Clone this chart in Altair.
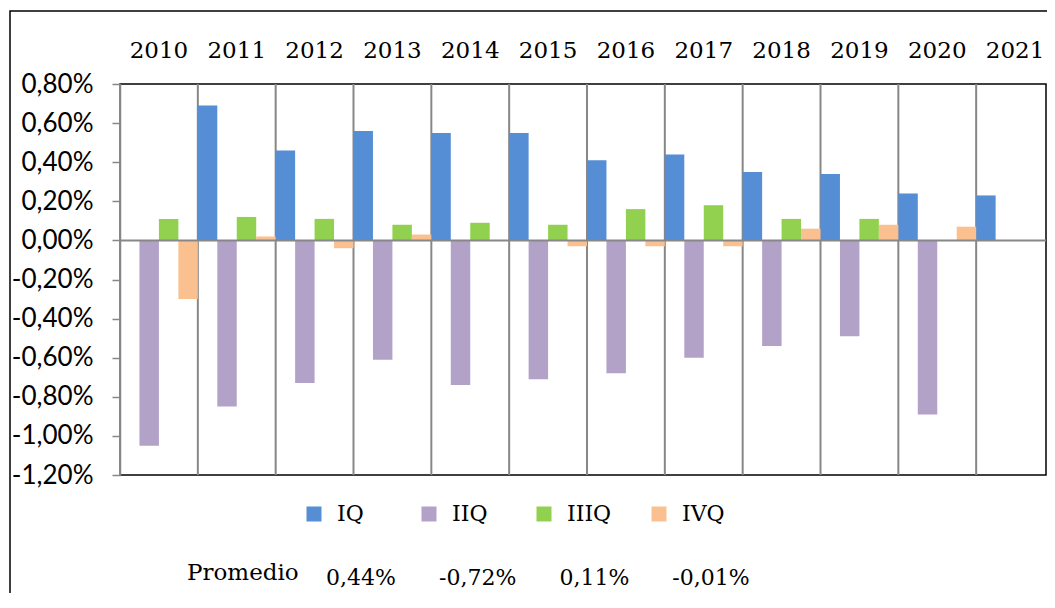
import altair as alt
import pandas as pd

years = [str(y) for y in range(2010, 2022)]
series = ["IQ", "IIQ", "IIIQ", "IVQ"]
iq   = [None, 0.69, 0.46, 0.56, 0.55, 0.55, 0.41, 0.44, 0.35, 0.34, 0.24, 0.23]
iiq  = [-1.05, -0.85, -0.73, -0.61, -0.74, -0.71, -0.68, -0.60, -0.54, -0.49, -0.89, None]
iiiq = [0.11, 0.12, 0.11, 0.08, 0.09, 0.08, 0.16, 0.18, 0.11, 0.11, None, None]
ivq  = [-0.30, 0.02, -0.04, 0.03, None, -0.03, -0.03, -0.03, 0.06, 0.08, 0.07, None]
promedio = [0.44, -0.72, 0.11, -0.01]
promedio_label = "Promedio"
y_ticks = [0.80, 0.60, 0.40, 0.20, 0.00, -0.20, -0.40, -0.60, -0.80, -1.00, -1.20]
colors = ["#558ED5", "#B3A2C7", "#92D050", "#FAC090"]

rows = []
for s, vals in zip(series, [iq, iiq, iiiq, ivq]):
    for y, v in zip(years, vals):
        if v is not None:
            rows.append({"year": y, "serie": s, "value": v})
df = pd.DataFrame(rows)
df_years = pd.DataFrame({"year": years})
df_prom = pd.DataFrame({"serie": series, "value": promedio})
one = pd.DataFrame({"k": [0]})

SERIF = "DejaVu Serif"
SANS = "Lato"
GRAY = "#878787"

fmt = "replace(replace(format(datum.value, '.2f'), '.', ','), '\u2212', '-') + '%'"

xscale = alt.Scale(domain=years, paddingInner=0, paddingOuter=0, range=[0, 934])
xaxis = alt.Axis(orient="top", title=None, labelAngle=0, domain=False, ticks=False,
                 grid=False, labelFont=SERIF, labelFontSize=23, labelColor="black",
                 labelPadding=27, labelBaseline="alphabetic")
yscale = alt.Scale(domain=[-1.2, 0.8], nice=False, zero=False)
yaxis = alt.Axis(values=y_ticks, title=None, grid=False, labelExpr=fmt,
                 labelFont=SANS, labelFontSize=26, labelColor="black",
                 tickSize=8, tickColor=GRAY, tickWidth=1.5,
                 domainColor=GRAY, domainWidth=1.5, labelPadding=19)

grid = alt.Chart(df_years).mark_rule(color=GRAY, strokeWidth=2).encode(
    x=alt.X("year:N", bandPosition=0, scale=xscale, axis=xaxis)
)

bars = alt.Chart(df).mark_bar().encode(
    x=alt.X("year:N", scale=xscale, axis=xaxis),
    xOffset=alt.XOffset("serie:N", scale=alt.Scale(domain=series, paddingInner=0, paddingOuter=0)),
    y=alt.Y("value:Q", scale=yscale, axis=yaxis),
    color=alt.Color("serie:N", scale=alt.Scale(domain=series, range=colors),
                    legend=alt.Legend(orient="none", legendX=183, legendY=419,
                                      direction="horizontal", columns=4, title=None,
                                      symbolType="square", symbolSize=225,
                                      symbolStrokeWidth=0, labelFont=SERIF,
                                      labelFontSize=22, labelColor="black",
                                      labelOffset=12, columnPadding=36,
                                      gridAlign="all", padding=0)),
)

zero = alt.Chart(one).mark_rule(color=GRAY, strokeWidth=2).encode(
    y=alt.Y(datum=0, scale=yscale, axis=yaxis)
)

main = alt.layer(grid, bars, zero)

prom_lbl = alt.Chart(one).mark_text(
    text=promedio_label, align="left", baseline="alphabetic",
    font=SERIF, fontSize=23, color="black"
).encode(x=alt.value(67), y=alt.value(496))

prom_vals = alt.Chart(df_prom).transform_calculate(
    label=fmt
).mark_text(align="center", baseline="alphabetic", font=SERIF, fontSize=22,
            color="black").encode(
    x=alt.X("serie:N", scale=alt.Scale(type="point", domain=series, range=[241, 591], padding=0),
            axis=None),
    y=alt.value(501),
    text="label:N",
)

frame = alt.Chart(one).mark_rect(fillOpacity=0, stroke="black", strokeWidth=1.5).encode(
    x=alt.value(-110), x2=alt.value(1400), y=alt.value(-73), y2=alt.value(1000)
)

chart = alt.layer(main, prom_lbl, prom_vals, frame).resolve_scale(x="independent").properties(
    width=926, height=391,
    autosize=alt.AutoSizeParams(type="none"),
    padding={"left": 112, "top": 76, "right": 1, "bottom": 118},
).configure_view(stroke="black", strokeWidth=1.5).configure_axis(labelColor="black")

chart.save("out.html", embed_options={"renderer": "svg", "actions": False})
